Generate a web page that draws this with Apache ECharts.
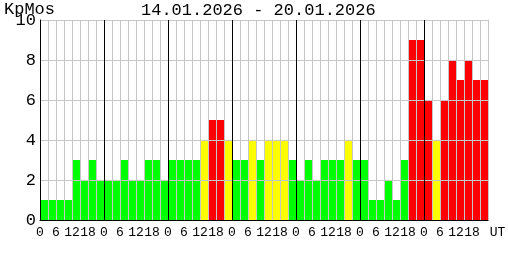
<!DOCTYPE html>
<html>
<head>
<meta charset="utf-8">
<script src="https://cdn.jsdelivr.net/npm/echarts@6/dist/echarts.min.js"></script>
<style>html,body{margin:0;padding:0;background:#fff}#c{width:508px;height:260px}</style>
</head>
<body>
<div id="c"></div>
<script>
// ---- data ----
var startDate = '14.01.2026';
var endDate = '20.01.2026';
var yName = 'KpMos';
var hourLabels = ['0', '6', '12', '18'];
var unitLabel = 'UT';
var day1 = [1, 1, 1, 1, 3, 2, 3, 2];
var day2 = [2, 2, 3, 2, 2, 3, 3, 2];
var day3 = [3, 3, 3, 3, 4, 5, 5, 4];
var day4 = [3, 3, 4, 3, 4, 4, 4, 3];
var day5 = [2, 3, 2, 3, 3, 3, 4, 3];
var day6 = [3, 1, 1, 2, 1, 3, 9, 9];
var day7 = [6, 4, 6, 8, 7, 8, 7, 7];
var yTicks = [0, 2, 4, 6, 8, 10];

// ---- build ----
var values = [].concat(day1, day2, day3, day4, day5, day6, day7);
var slotsPerDay = day1.length;
var categories = values.map(function (v, i) { return 'b' + i; });
var nSlots = values.length;

var FONT = 'Liberation Mono';
var GRAY = '#c6c6c6';
var splitColors = ['#000000'];
for (var k = 1; k < slotsPerDay; k++) splitColors.push(GRAY);

function barColor(v) {
  if (v >= 5) return '#ff0000';
  if (v >= 4) return '#ffff00';
  return '#00ff00';
}

var chart = echarts.init(document.getElementById('c'), null, { renderer: 'canvas' });
chart.setOption({
  animation: false,
  backgroundColor: '#ffffff',
  title: [
    { text: startDate + ' - ' + endDate, left: 141, top: 2, padding: 0,
      textStyle: { fontFamily: FONT, fontSize: 17, fontWeight: 'normal', color: '#000' } },
    { text: yName, left: 4, top: 1, padding: 0,
      textStyle: { fontFamily: FONT, fontSize: 17, fontWeight: 'normal', color: '#000' } }
  ],
  grid: { left: 40, right: 20, top: 20, bottom: 40, containLabel: false, outerBoundsMode: 'none' },
  xAxis: [
    { type: 'category', data: categories, show: false, boundaryGap: true },
    { type: 'value', min: 0, max: nSlots, interval: 1, position: 'bottom', z: 6,
      axisLine: { show: true, onZero: false, lineStyle: { color: '#000', width: 1 } },
      axisTick: { show: false },
      axisLabel: {
        show: true, showMinLabel: true, showMaxLabel: true, margin: 6,
        fontFamily: FONT, fontSize: 13, color: '#000',
        formatter: function (v) {
          if (v === nSlots) return '{u|' + unitLabel + '}';
          if (v % 2 !== 0) return '';
          return hourLabels[(v % slotsPerDay) / 2];
        },
        rich: { u: { fontFamily: FONT, fontSize: 13, color: '#000', padding: [0, 0, 0, 19] } }
      },
      splitLine: { show: true, showMaxLine: false, lineStyle: { color: splitColors, width: 1 } }
    }
  ],
  yAxis: [
    { type: 'value', min: yTicks[0], max: yTicks[yTicks.length - 1], interval: yTicks[1] - yTicks[0], z: 5,
      axisLine: { show: true, lineStyle: { color: '#000', width: 1 } },
      axisTick: { show: false },
      axisLabel: { margin: 4, fontFamily: FONT, fontSize: 17, color: '#000', padding: [3, 0, 0, 0] },
      splitLine: { show: true, showMinLine: false, lineStyle: { color: GRAY, width: 1 } }
    },
    { type: 'value', position: 'right', min: yTicks[0], max: yTicks[yTicks.length - 1], z: 5,
      axisLine: { show: true, lineStyle: { color: GRAY, width: 1 } },
      axisTick: { show: false }, axisLabel: { show: false }, splitLine: { show: false }
    }
  ],
  series: [{
    type: 'bar', xAxisIndex: 0, yAxisIndex: 0,
    data: values, barCategoryGap: '0%', barGap: '0%', silent: true, z: 2,
    itemStyle: { color: function (p) { return barColor(p.value); } }
  }]
});
</script>
</body>
</html>
